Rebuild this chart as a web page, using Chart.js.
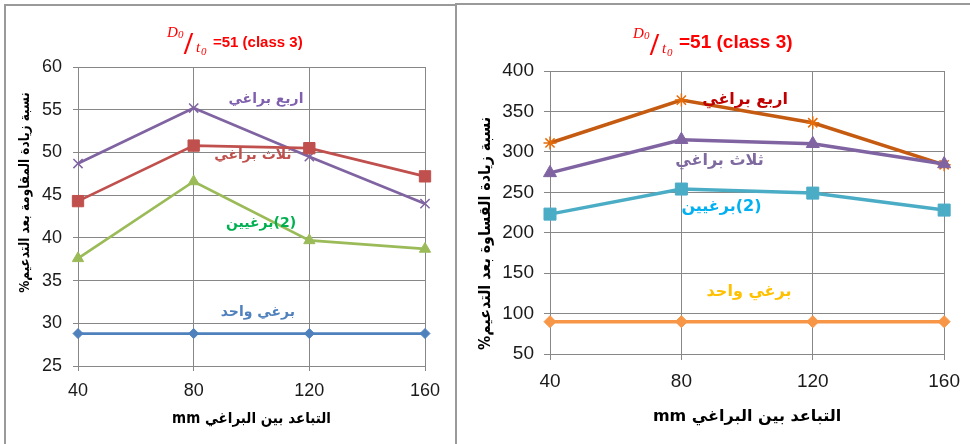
<!DOCTYPE html>
<html>
<head>
<meta charset="utf-8">
<script src="https://cdn.jsdelivr.net/npm/chart.js@4"></script>
<style>
  html, body { margin: 0; padding: 0; background: #fff; }
  #page { position: relative; width: 970px; height: 444px; overflow: hidden; background: #fff; }
  canvas { position: absolute; }
  .frame { position: absolute; background: #9a9a9a; }
</style>
</head>
<body>
<div id="page">
  <div class="frame" style="left:4px; top:4px; width:452px; height:1.5px;"></div>
  <div class="frame" style="left:4px; top:4px; width:1.5px; height:440px;"></div>
  <div class="frame" style="left:455px; top:3px; width:2px; height:441px;"></div>
  <div class="frame" style="left:456px; top:3px; width:514px; height:1.5px;"></div>
  <canvas id="strength" width="448" height="438" style="left:6px; top:6px;"></canvas>
  <canvas id="stiffness" width="512" height="439" style="left:458px; top:5px;"></canvas>
</div>
<script>
// Bolt spacing (mm)
const spacing = [40, 80, 120, 160];

// Strength increase after strengthening (%)
const fourBoltsStrength  = [48.7, 55.2, 49.5, 44.0];
const threeBoltsStrength = [44.3, 50.8, 50.5, 47.2];
const twoBoltsStrength   = [37.6, 46.6, 39.7, 38.7];
const oneBoltStrength    = [28.8, 28.8, 28.8, 28.8];

// Stiffness increase after strengthening (%)
const fourBoltsStiffness  = [311, 364, 336, 284];
const threeBoltsStiffness = [274, 315, 310, 285];
const twoBoltsStiffness   = [223, 254, 249, 228];
const oneBoltStiffness    = [90, 90, 90, 90];

// Axis ranges
const strengthTicks  = { min: 25, max: 60, step: 5 };
const stiffnessTicks = { min: 50, max: 400, step: 50 };
const spacingTicks   = { min: 40, max: 160, step: 40 };

// Series names
const fourBolts  = 'اربع براغي';
const threeBolts = 'ثلاث براغي';
const twoBolts   = '(2)برغيين';
const oneBolt    = 'برغي واحد';

const xTitle = 'التباعد بين البراغي mm';
const strengthTitle  = 'نسبة زيادة المقاومة بعد التدعيم%';
const stiffnessTitle = 'نسبة زيادة القساوة بعد التدعيم%';
const titleTail = '=51 (class 3)';

const ARABIC_FONT = "'DejaVu Sans', sans-serif";
const LATIN_FONT = "'Liberation Sans', Arial, sans-serif";
const SERIF = "'Liberation Serif', serif";

function points(values) {
  return spacing.map((x, i) => ({ x: x, y: values[i] }));
}

// Draws the D0/t0 ratio followed by the rest of the heading
function drawHeading(ctx, x, baseline, tailSize) {
  ctx.save();
  ctx.fillStyle = '#ff0000';
  ctx.direction = 'ltr';
  ctx.textAlign = 'left';
  ctx.textBaseline = 'alphabetic';
  // numerator D0
  ctx.font = `italic 15px ${SERIF}`;
  ctx.fillText('D', x, baseline - 10);
  ctx.font = `italic 11px ${SERIF}`;
  ctx.fillText('0', x + 11, baseline - 9);
  // fraction slash
  ctx.font = `bold 32px ${SERIF}`;
  ctx.fillText('/', x + 17, baseline + 7);
  // denominator t0
  ctx.font = `italic 15px ${SERIF}`;
  ctx.fillText('t', x + 29, baseline + 5);
  ctx.font = `italic 11px ${SERIF}`;
  ctx.fillText('0', x + 34, baseline + 8);
  // remainder of the heading
  ctx.font = `bold ${tailSize}px ${LATIN_FONT}`;
  ctx.fillText(titleTail, x + 46, baseline);
  ctx.restore();
}

// Draws right-to-left text, optionally compressed horizontally
function rtlText(ctx, text, x, y, font, color, squeeze, angle) {
  ctx.save();
  ctx.direction = 'rtl';
  ctx.textAlign = 'center';
  ctx.textBaseline = 'middle';
  ctx.fillStyle = color;
  ctx.font = font;
  ctx.translate(x, y);
  if (angle) ctx.rotate(angle);
  ctx.scale(squeeze || 1, 1);
  ctx.fillText(text, 0, 0);
  ctx.restore();
}

const textPlugin = {
  id: 'chartTexts',
  afterDraw(chart, args, opts) {
    const ctx = chart.ctx;
    const xs = chart.scales.x, ys = chart.scales.y;
    const area = chart.chartArea;
    drawHeading(ctx, opts.heading.x, opts.heading.baseline, opts.heading.size);

    // series captions placed in data space
    opts.captions.forEach(c => {
      rtlText(ctx, c.text, xs.getPixelForValue(c.x), ys.getPixelForValue(c.y),
              `bold ${opts.captionSize}px ${ARABIC_FONT}`, c.color, 1, 0);
    });

    // axis titles
    rtlText(ctx, xTitle, (area.left + area.right) / 2 + opts.xTitle.dx, opts.xTitle.y,
            `bold ${opts.xTitle.size}px ${ARABIC_FONT}`, '#000', opts.xTitle.squeeze, 0);
    rtlText(ctx, opts.yTitle.text, opts.yTitle.x, (area.top + area.bottom) / 2 + opts.yTitle.dy,
            `bold ${opts.yTitle.size}px ${ARABIC_FONT}`, '#000', opts.yTitle.squeeze, -Math.PI / 2);
  }
};

function makeChart(id, datasets, yRange, cfg) {
  const grid = { color: '#878787', lineWidth: 1, tickLength: cfg.tickLength, drawTicks: true };
  const border = { color: '#878787', width: 1 };
  return new Chart(document.getElementById(id), {
    type: 'line',
    data: { datasets: datasets },
    plugins: [textPlugin],
    options: {
      responsive: false,
      animation: false,
      devicePixelRatio: 1,
      layout: { padding: cfg.padding },
      plugins: {
        legend: { display: false },
        tooltip: { enabled: false },
        chartTexts: cfg.texts
      },
      scales: {
        x: {
          type: 'linear',
          min: spacingTicks.min, max: spacingTicks.max,
          ticks: { stepSize: spacingTicks.step, color: '#1a1a1a', padding: cfg.xPad,
                   font: { family: LATIN_FONT, size: cfg.tickSize } },
          grid: grid, border: border,
          afterFit(s) { s.height = cfg.xHeight; }
        },
        y: {
          min: yRange.min, max: yRange.max,
          ticks: { stepSize: yRange.step, color: '#1a1a1a', padding: cfg.yPad,
                   font: { family: LATIN_FONT, size: cfg.tickSize } },
          grid: grid, border: border,
          afterFit(s) { s.width = cfg.yWidth; }
        }
      }
    }
  });
}

function series(values, color, style, radius, width, pointColor) {
  return {
    data: points(values),
    borderColor: color,
    backgroundColor: pointColor || color,
    pointBackgroundColor: pointColor || color,
    pointBorderColor: pointColor || color,
    pointStyle: style,
    pointRadius: radius,
    pointBorderWidth: (style === 'crossRot' || style === 'star') ? 1.5 : 1,
    borderWidth: width,
    tension: 0,
    clip: false
  };
}

makeChart('strength', [
  series(oneBoltStrength, '#4f81bd', 'rectRot', 5, 2.75),
  series(twoBoltsStrength, '#9bbb59', 'triangle', 6.5, 2.75),
  series(threeBoltsStrength, '#c0504d', 'rect', 8, 2.75),
  series(fourBoltsStrength, '#8064a2', 'crossRot', 6.5, 2.75)
], strengthTicks, {
  padding: { left: 0, top: 61, right: 29, bottom: 28 },
  yWidth: 72, xHeight: 50, tickLength: 5, xPad: 9, yPad: 11, tickSize: 18,
  texts: {
    heading: { x: 161, baseline: 41, size: 15 },
    captionSize: 14,
    captions: [
      { text: fourBolts,  x: 105.0, y: 56.25, color: '#7f5fae' },
      { text: threeBolts, x: 100.5, y: 49.7,  color: '#c0504d' },
      { text: twoBolts,   x: 103.3, y: 41.7,  color: '#00b050' },
      { text: oneBolt,    x: 102.2, y: 31.3,  color: '#4f81bd' }
    ],
    xTitle: { y: 413, dx: 0, size: 15, squeeze: 0.9 },
    yTitle: { x: 19, dy: -24, size: 14, squeeze: 0.86, text: strengthTitle }
  }
});

makeChart('stiffness', [
  series(oneBoltStiffness, '#f79646', 'rectRot', 6, 3.5),
  series(twoBoltsStiffness, '#4bacc6', 'rect', 8.5, 3.5),
  series(threeBoltsStiffness, '#8064a2', 'triangle', 7.5, 3.5),
  series(fourBoltsStiffness, '#c55a11', 'star', 6.5, 3.5, '#e46c0a')
], stiffnessTicks, {
  padding: { left: 0, top: 66, right: 22, bottom: 40 },
  yWidth: 92, xHeight: 50, tickLength: 6, xPad: 10, yPad: 10, tickSize: 19,
  texts: {
    heading: { x: 175, baseline: 43, size: 19 },
    captionSize: 16,
    captions: [
      { text: fourBolts,  x: 99.4,  y: 363.8, color: '#c00000' },
      { text: threeBolts, x: 91.6,  y: 288.5, color: '#7f6a9f' },
      { text: twoBolts,   x: 92.2,  y: 231.7, color: '#00b0f0' },
      { text: oneBolt,    x: 100.6, y: 126.8, color: '#ffc000' }
    ],
    xTitle: { y: 412, dx: 0, size: 16, squeeze: 1 },
    yTitle: { x: 28, dy: 21, size: 16, squeeze: 0.89, text: stiffnessTitle }
  }
});
</script>
</body>
</html>
